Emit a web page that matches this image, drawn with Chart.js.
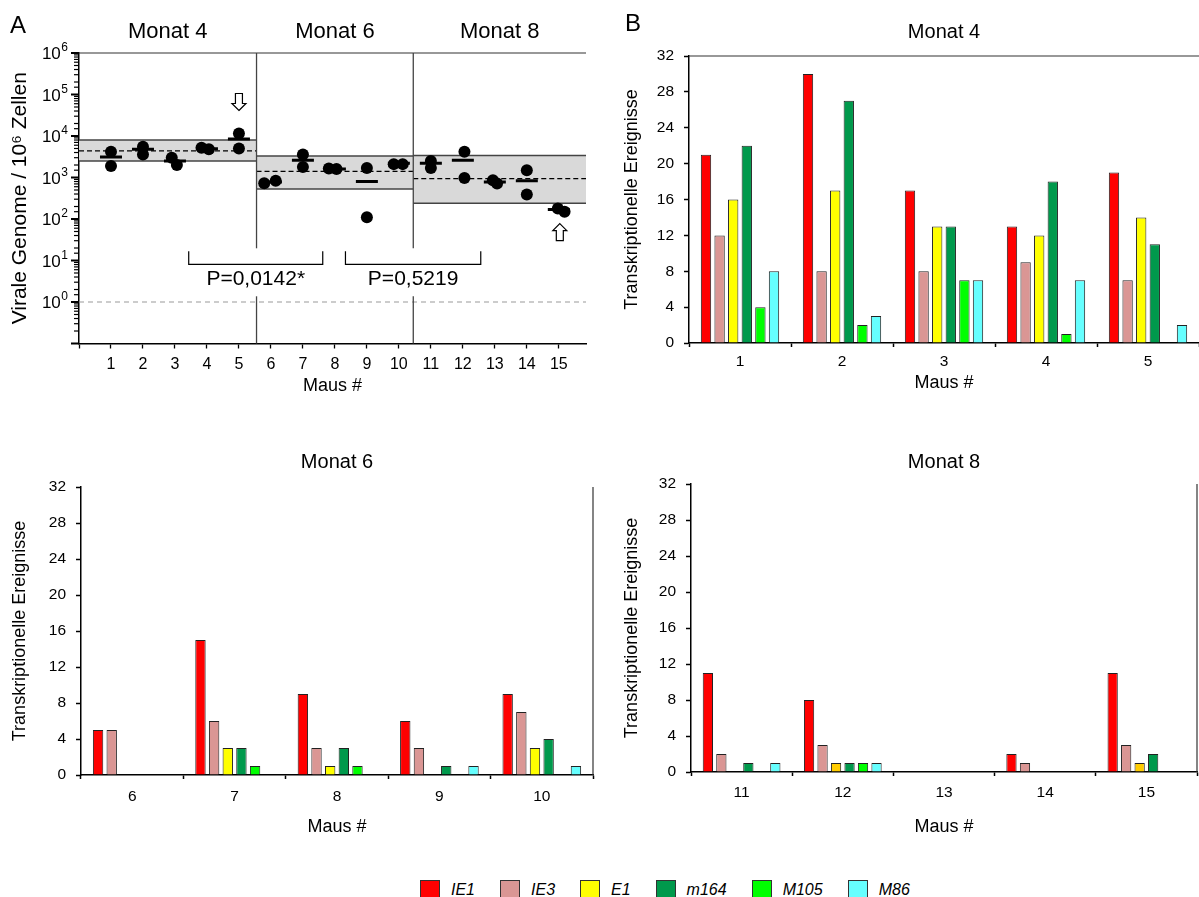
<!DOCTYPE html>
<html lang="de">
<head>
<meta charset="UTF-8">
<title>Virale Genome und transkriptionelle Ereignisse</title>
<script src="https://cdn.jsdelivr.net/npm/chart.js"></script>
<style>
    body {
        margin: 0;
        background: #fff;
        font-family: Arial, "Liberation Sans", sans-serif;
    }
    .page {
        position: relative;
        width: 1199px;
        height: 897px;
        overflow: hidden;
    }
    canvas {
        position: absolute;
    }
    #legend {
        position: absolute;
        left: 420px;
        top: 880px;
        display: flex;
        align-items: center;
    }
    .item {
        display: flex;
        align-items: center;
        margin-right: 25px;
    }
    .swatch {
        width: 20px;
        height: 20px;
        box-sizing: border-box;
        border: 1px solid #333;
        margin-right: 11px;
    }
    .item span {
        font-style: italic;
        font-size: 16px;
        color: #000;
    }
</style>
</head>
<body>
<div class="page">
    <canvas id="genomeChart" width="600" height="410" style="left:0;top:0"></canvas>
    <canvas id="month4Chart" width="599" height="410" style="left:600px;top:0"></canvas>
    <canvas id="month6Chart" width="600" height="410" style="left:0;top:440px"></canvas>
    <canvas id="month8Chart" width="599" height="410" style="left:600px;top:440px"></canvas>
    <div id="legend"></div>
</div>
<script>
// viral genomes per 10^6 cells, two replicates and mean per mouse
const mouseIds = [1, 2, 3, 4, 5, 6, 7, 8, 9, 10, 11, 12, 13, 14, 15];
const genomesRep1 = [4200, 5500, 3000, 5200, 11500, 730, 3600, 1650, 1700, 2100, 2500, 4200, 860, 1500, 180];
const genomesRep2 = [1900, 3600, 2000, 4800, 5000, 830, 1800, 1600, 110, 2100, 1700, 970, 720, 390, 150];
const genomesMean = [3100, 4800, 2500, 4900, 8500, 780, 2600, 1600, 800, 2200, 2200, 2600, 780, 840, 170];

// per month: range and mean of the group
const monthNames = ['Monat 4', 'Monat 6', 'Monat 8'];
const rangeLow = [2500, 530, 240];
const rangeHigh = [8000, 3300, 3400];
const rangeMean = [4400, 1400, 940];
const pLabels = ['P=0,0142*', 'P=0,5219'];
const flaggedMice = [5, 15];

// transcriptional events, one row per gene
const genes = ['IE1', 'IE3', 'E1', 'm164', 'M105', 'M86'];
const geneColors = ['#ff0000', '#da9694', '#ffff00', '#00994c', '#00ff00', '#66ffff'];

const month4Mice = ['1', '2', '3', '4', '5'];
const month4Events = [
    [21, 30, 17, 13, 19],
    [12, 8, 8, 9, 7],
    [16, 17, 13, 12, 14],
    [22, 27, 13, 18, 11],
    [4, 2, 7, 1, 0],
    [8, 3, 7, 7, 2]
];

const month6Mice = ['6', '7', '8', '9', '10'];
const month6Events = [
    [5, 15, 9, 6, 9],
    [5, 6, 3, 3, 7],
    [0, 3, 1, 0, 3],
    [0, 3, 3, 1, 4],
    [0, 1, 1, 0, 0],
    [0, 0, 0, 1, 1]
];

const month8Mice = ['11', '12', '13', '14', '15'];
const month8Events = [
    [11, 8, 0, 2, 11],
    [2, 3, 0, 1, 3],
    [0, 1, 0, 0, 1],
    [1, 1, 0, 0, 2],
    [0, 1, 0, 0, 0],
    [1, 1, 0, 0, 0]
];

const FONT = 'Arial, "Liberation Sans", sans-serif';
Chart.defaults.font.family = FONT;
Chart.defaults.color = '#000';

function decade(v) {
    const e = Math.log10(v);
    return Math.abs(e - Math.round(e)) < 1e-6 ? Math.round(e) : null;
}

function strokeLine(ctx, x0, y0, x1, y1) {
    ctx.beginPath();
    ctx.moveTo(x0, y0);
    ctx.lineTo(x1, y1);
    ctx.stroke();
}

// month blocks on the mouse axis and the two comparison brackets
const monthEdges = [0, 5.55, 10.45, 15.85];
const bracketSpans = [[3.43, 7.62], [8.33, 12.56]];
const bracketLevel = 8.1;

// small horizontal spread for overlapping replicate dots
const spread1 = [0, 0, -0.1, -0.17, 0, -0.21, 0, -0.19, 0, -0.16, 0, 0.05, -0.06, 0, -0.03];
const spread2 = [0, 0, 0.06, 0.06, 0, 0.15, 0, 0.05, 0, 0.12, 0, 0.05, 0.07, 0, 0.18];

function drawArrow(ctx, cx, tip, down) {
    const s = down ? -1 : 1;
    ctx.beginPath();
    ctx.moveTo(cx, tip);
    ctx.lineTo(cx + 7, tip + s * 7);
    ctx.lineTo(cx + 3.5, tip + s * 7);
    ctx.lineTo(cx + 3.5, tip + s * 17);
    ctx.lineTo(cx - 3.5, tip + s * 17);
    ctx.lineTo(cx - 3.5, tip + s * 7);
    ctx.lineTo(cx - 7, tip + s * 7);
    ctx.closePath();
    ctx.fillStyle = '#fff';
    ctx.fill();
    ctx.strokeStyle = '#000';
    ctx.lineWidth = 1.2;
    ctx.stroke();
}

const genomePanel = {
    id: 'genomePanel',
    beforeDatasetsDraw(chart) {
        const { ctx, chartArea: a, scales: { x, y } } = chart;
        ctx.save();
        monthNames.forEach((name, i) => {
            const x0 = x.getPixelForValue(monthEdges[i]);
            const x1 = x.getPixelForValue(monthEdges[i + 1]);
            const yt = y.getPixelForValue(rangeHigh[i]);
            const yb = y.getPixelForValue(rangeLow[i]);
            const ym = y.getPixelForValue(rangeMean[i]);
            ctx.fillStyle = '#d9d9d9';
            ctx.fillRect(x0, yt, x1 - x0, yb - yt);
            ctx.strokeStyle = '#444';
            ctx.lineWidth = 1.5;
            strokeLine(ctx, x0, yt, x1, yt);
            strokeLine(ctx, x0, yb, x1, yb);
            ctx.strokeStyle = '#000';
            ctx.lineWidth = 1.3;
            ctx.setLineDash([5, 3]);
            strokeLine(ctx, x0, ym, x1, ym);
            ctx.setLineDash([]);
        });
        // detection limit
        const y1 = y.getPixelForValue(1);
        ctx.strokeStyle = '#999';
        ctx.lineWidth = 1.2;
        ctx.setLineDash([5, 4]);
        strokeLine(ctx, a.left, y1, a.right, y1);
        ctx.setLineDash([]);
        ctx.restore();
    },
    afterDraw(chart) {
        const { ctx, chartArea: a, scales: { x, y } } = chart;
        ctx.save();
        // frame top
        ctx.strokeStyle = '#333';
        ctx.lineWidth = 1.2;
        strokeLine(ctx, a.left, a.top, a.right, a.top);

        // log ticks, long for decades, decade labels with raised exponent
        ctx.strokeStyle = '#000';
        ctx.fillStyle = '#000';
        ctx.textBaseline = 'alphabetic';
        y.ticks.forEach(t => {
            const py = y.getPixelForValue(t.value);
            const e = decade(t.value);
            ctx.lineWidth = e !== null ? 2 : 1.2;
            strokeLine(ctx, a.left - (e !== null ? 8 : 5), py, a.left, py);
            if (e !== null && e >= 0) {
                const right = a.left - 11;
                ctx.font = '12px ' + FONT;
                ctx.textAlign = 'right';
                const w = ctx.measureText(String(e)).width;
                ctx.fillText(String(e), right, py - 2);
                ctx.font = '17px ' + FONT;
                ctx.fillText('10', right - w - 0.5, py + 6);
            }
        });

        // month separators, broken around the p-values
        const yb = y.getPixelForValue(bracketLevel);
        ctx.strokeStyle = '#444';
        ctx.lineWidth = 1.3;
        [monthEdges[1], monthEdges[2]].forEach(v => {
            const px = x.getPixelForValue(v);
            strokeLine(ctx, px, a.top, px, yb - 16);
            strokeLine(ctx, px, yb + 32, px, a.bottom);
        });

        // comparison brackets
        ctx.strokeStyle = '#000';
        ctx.lineWidth = 1.2;
        ctx.font = '21px ' + FONT;
        ctx.textAlign = 'center';
        ctx.textBaseline = 'middle';
        bracketSpans.forEach((span, i) => {
            const x0 = x.getPixelForValue(span[0]);
            const x1 = x.getPixelForValue(span[1]);
            ctx.beginPath();
            ctx.moveTo(x0, yb - 13);
            ctx.lineTo(x0, yb);
            ctx.lineTo(x1, yb);
            ctx.lineTo(x1, yb - 13);
            ctx.stroke();
            ctx.fillText(pLabels[i], (x0 + x1) / 2, yb + 15);
        });

        // flagged mice: arrow above the highest / below the lowest dot
        flaggedMice.forEach((m, i) => {
            const idx = mouseIds.indexOf(m);
            const px = x.getPixelForValue(m);
            if (i === 0) {
                const top = y.getPixelForValue(Math.max(genomesRep1[idx], genomesRep2[idx]));
                drawArrow(ctx, px, top - 23, true);
            } else {
                const bot = y.getPixelForValue(Math.min(genomesRep1[idx], genomesRep2[idx]));
                drawArrow(ctx, px + 1, bot + 12, false);
            }
        });

        // month headings
        ctx.fillStyle = '#000';
        ctx.font = '22px ' + FONT;
        monthNames.forEach((name, i) => {
            const cx = (x.getPixelForValue(monthEdges[i]) + x.getPixelForValue(monthEdges[i + 1])) / 2;
            ctx.fillText(name, cx, 32);
        });
        ctx.textAlign = 'left';
        ctx.font = '24px ' + FONT;
        ctx.fillText('A', 10, 26);
        ctx.restore();
    }
};

new Chart(document.getElementById('genomeChart'), {
    type: 'scatter',
    data: {
        datasets: [
            {
                data: mouseIds.map((m, i) => ({ x: m, y: genomesMean[i] })),
                pointStyle: 'line',
                pointRadius: 11,
                borderWidth: 3,
                borderColor: '#000'
            },
            {
                data: mouseIds.flatMap((m, i) => [
                    { x: m + spread1[i], y: genomesRep1[i] },
                    { x: m + spread2[i], y: genomesRep2[i] }
                ]),
                pointRadius: 6,
                backgroundColor: '#000',
                borderColor: '#000',
                borderWidth: 0
            }
        ]
    },
    options: {
        responsive: false,
        animation: false,
        devicePixelRatio: 1,
        layout: { padding: { top: 53, right: 10, left: 0, bottom: 0 } },
        plugins: { legend: { display: false }, tooltip: { enabled: false } },
        scales: {
            x: {
                type: 'linear',
                min: 0,
                max: 15.85,
                grid: { drawOnChartArea: false, tickLength: 5, tickColor: '#000', tickWidth: 1.3 },
                border: { color: '#000', width: 1.5 },
                ticks: {
                    stepSize: 1,
                    includeBounds: false,
                    autoSkip: false,
                    maxRotation: 0,
                    padding: 6,
                    font: { size: 16 },
                    callback: v => (v >= 1 && Number.isInteger(v)) ? String(v) : ''
                },
                title: {
                    display: true, text: 'Maus #', font: { size: 18 },
                    padding: { top: 0, bottom: 13 }
                },
                afterFit: s => { s.height = 66.5; }
            },
            y: {
                type: 'logarithmic',
                min: 0.1,
                max: 1e6,
                grid: { drawOnChartArea: false, tickLength: 8, tickColor: 'transparent' },
                border: { color: '#000', width: 1.5 },
                ticks: { autoSkip: false, padding: 3, callback: () => '' },
                title: {
                    display: true, text: 'Virale Genome / 10\u2076 Zellen', font: { size: 21 },
                    padding: { top: 8, bottom: 0 }
                },
                afterFit: s => { s.width = 79; }
            }
        }
    },
    plugins: [genomePanel]
});

// bar panels: heading, frame line and optional panel letter
const barPanel = {
    id: 'barPanel',
    afterDraw(chart, args, opts) {
        const { ctx, chartArea: a } = chart;
        ctx.save();
        ctx.strokeStyle = '#333';
        ctx.lineWidth = 1.2;
        if (opts.frame === 'top') strokeLine(ctx, a.left, a.top, a.right, a.top);
        if (opts.frame === 'right') strokeLine(ctx, a.right, a.top, a.right, a.bottom);
        ctx.fillStyle = '#000';
        ctx.textAlign = 'center';
        ctx.textBaseline = 'middle';
        ctx.font = '20px ' + FONT;
        ctx.fillText(opts.heading, (a.left + a.right) / 2, opts.headingY);
        if (opts.letter) {
            ctx.textAlign = 'left';
            ctx.font = '24px ' + FONT;
            ctx.fillText(opts.letter, 25, 24);
        }
        ctx.restore();
    }
};

function eventsChart(id, mice, events, cfg) {
    const colors = cfg.colors || geneColors;
    return new Chart(document.getElementById(id), {
        type: 'bar',
        data: {
            labels: mice,
            datasets: genes.map((g, i) => ({
                label: g,
                data: events[i],
                backgroundColor: colors[i],
                borderColor: '#222',
                borderWidth: 1,
                categoryPercentage: 0.8,
                barPercentage: 0.76
            }))
        },
        options: {
            responsive: false,
            animation: false,
            devicePixelRatio: 1,
            layout: { padding: { top: cfg.top, right: cfg.right, left: 0, bottom: 0 } },
            plugins: {
                legend: { display: false },
                tooltip: { enabled: false },
                barPanel: { heading: cfg.heading, headingY: cfg.headingY, frame: cfg.frame, letter: cfg.letter }
            },
            scales: {
                x: {
                    grid: { drawOnChartArea: false, offset: true, tickLength: 4, tickColor: '#000', tickWidth: 1.5 },
                    border: { color: '#000', width: 1.5 },
                    ticks: { font: { size: 15.5 }, padding: cfg.tickPad, maxRotation: 0 },
                    title: {
                        display: true, text: 'Maus #', font: { size: 18 },
                        padding: { top: 0, bottom: cfg.xTitlePad }
                    },
                    afterFit: s => { s.height = cfg.xHeight; }
                },
                y: {
                    min: 0,
                    max: 32,
                    grid: { drawOnChartArea: false, tickLength: 5, tickColor: '#000', tickWidth: 1.5 },
                    border: { color: '#000', width: 1.5 },
                    ticks: { stepSize: 4, font: { size: 15.5 }, padding: 10 },
                    title: {
                        display: true, text: 'Transkriptionelle Ereignisse', font: { size: 18 },
                        padding: { top: cfg.yTitlePad, bottom: 0 }
                    },
                    afterFit: s => { s.width = cfg.yWidth; }
                }
            }
        },
        plugins: [barPanel]
    });
}

eventsChart('month4Chart', month4Mice, month4Events, {
    heading: 'Monat 4', headingY: 32, frame: 'top', letter: 'B',
    top: 56, right: 0, yWidth: 89, xHeight: 67, tickPad: 5, xTitlePad: 16, yTitlePad: 21
});
eventsChart('month6Chart', month6Mice, month6Events, {
    heading: 'Monat 6', headingY: 22, frame: 'right',
    top: 47, right: 7, yWidth: 81, xHeight: 75, tickPad: 8, xTitlePad: 12, yTitlePad: 9
});
eventsChart('month8Chart', month8Mice, month8Events, {
    heading: 'Monat 8', headingY: 22, frame: 'right',
    top: 44, right: 2, yWidth: 91, xHeight: 78, tickPad: 7, xTitlePad: 12, yTitlePad: 21,
    colors: ['#ff0000', '#da9694', '#ffcc00', '#00994c', '#00ff00', '#66ffff']
});

// shared gene legend
const legend = document.getElementById('legend');
genes.forEach((g, i) => {
    const item = document.createElement('div');
    item.className = 'item';
    item.innerHTML = '<div class="swatch" style="background:' + geneColors[i] + '"></div><span>' + g + '</span>';
    legend.appendChild(item);
});
</script>
</body>
</html>
